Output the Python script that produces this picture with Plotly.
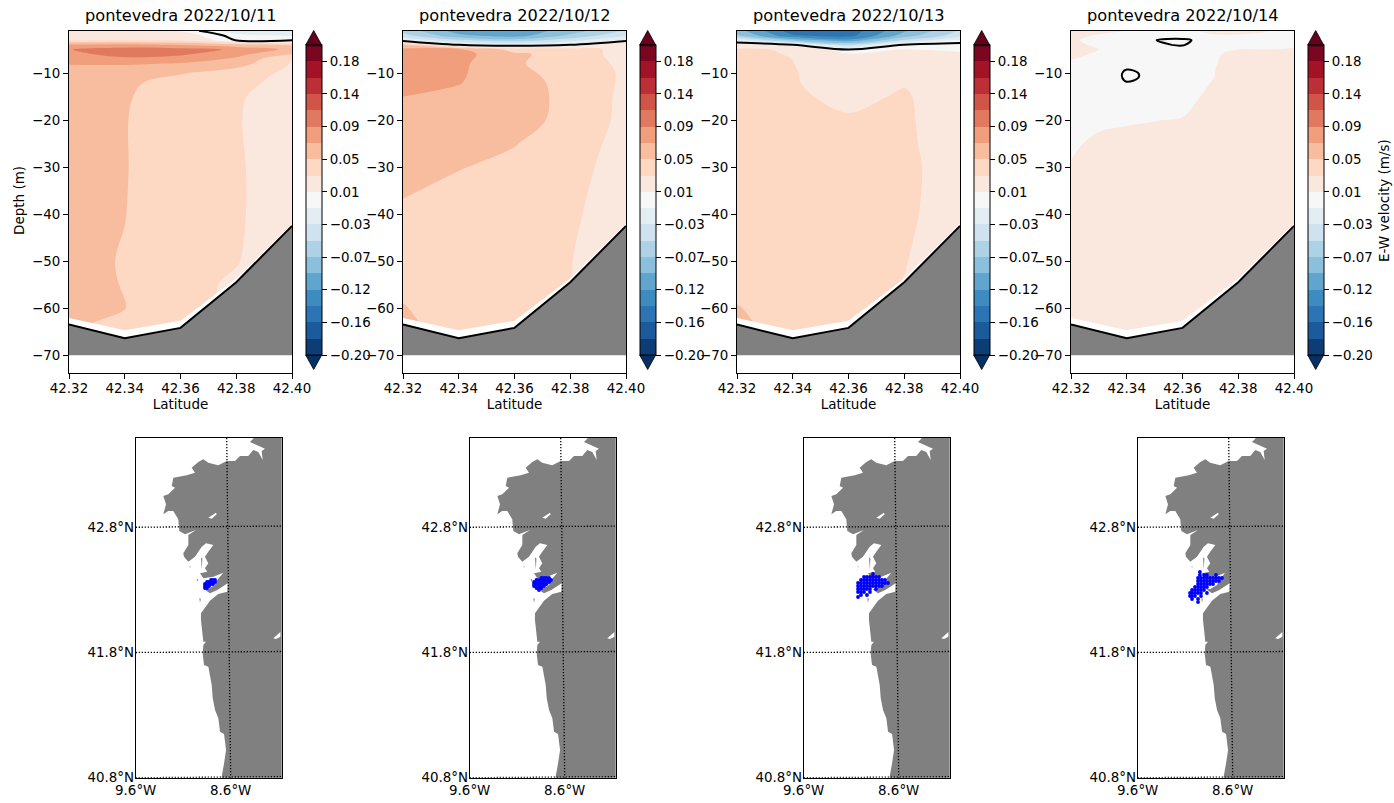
import plotly.graph_objects as go

W, H = 1394, 803
FONT = "DejaVu Sans"

lat_section = [42.32, 42.34, 42.36, 42.38, 42.40]
titles = ["pontevedra 2022/10/11", "pontevedra 2022/10/12", "pontevedra 2022/10/13", "pontevedra 2022/10/14"]
bathy = [-63.5, -66.4, -64.2, -54.5, -42.5]
deepest_layer = [-62.1, -64.7, -62.7, -53.7, -42.0]
gray_floor = [-70, -70, -70, -70, -70]
mask_floor = [-73.8, -73.8, -73.8, -73.8, -73.8]
depth_ticks = [-10, -20, -30, -40, -50, -60, -70]
lat_ticks = [42.32, 42.34, 42.36, 42.38, 42.40]

n_levels = 20
level_low, level_high = -0.2, 0.2
cbar_tick_values = [-0.2, -0.15789, -0.11579, -0.07368, -0.03158, 0.01053, 0.05263, 0.09474, 0.13684, 0.17895]
cbar_tick_text = ["\u22120.20", "\u22120.16", "\u22120.12", "\u22120.07", "\u22120.03", "0.01", "0.05", "0.09", "0.14", "0.18"]
rdbu_r = ["#053061", "#2166ac", "#4393c3", "#92c5de", "#d1e5f0", "#f7f7f7",
          "#fddbc7", "#f4a582", "#d6604d", "#b2182b", "#67001f"]

depth_1 = [-1, -2, -3, -4, -5, -6, -7, -8, -9, -10, -12, -15, -20, -30, -40, -50, -55, -60, -65, -70]
u_1 = [
    [.020, .020, .010, -.020, -.014],
    [.025, .025, .020, -.006, -.012],
    [.030, .030, .028, -.001, .000],
    [.076, .080, .072, .060, .050],
    [.094, .105, .104, .0915, .068],
    [.088, .103, .098, .080, .053],
    [.082, .090, .086, .070, .031],
    [.075, .076, .072, .062, .030],
    [.069, .068, .062, .052, .028],
    [.065, .064, .054, .044, .026],
    [.062, .056, .046, .038, .024],
    [.061, .0545, .042, .034, .021],
    [.062, .0535, .040, .033, .020],
    [.062, .0535, .041, .034, .020],
    [.060, .053, .040, .034, .020],
    [.058, .0515, .039, .0325, .020],
    [.058, .052, .037, .029, .020],
    [.056, .053, .038, .028, .020],
    [.054, .045, .036, .028, .020],
    [.054, .045, .036, .028, .020],
]

depth_2 = [-1, -2, -3, -4, -5, -6, -8, -10, -12, -15, -20, -25, -30, -40, -50, -55, -60, -65, -70]
u_2 = [
    [-.060, -.105, -.110, -.085, -.050],
    [-.045, -.090, -.105, -.070, -.035],
    [-.012, -.050, -.065, -.040, -.006],
    [.060, .000, -.012, .000, .030],
    [.078, .078, .045, .042, .024],
    [.085, .082, .056, .045, .022],
    [.087, .0786, .0543, .046, .026],
    [.083, .077, .0565, .047, .028],
    [.080, .0747, .0605, .0465, .028],
    [.0737, .069, .0635, .046, .027],
    [.068, .066, .0605, .0465, .026],
    [.063, .060, .0535, .042, .024],
    [.058, .0535, .048, .0375, .024],
    [.050, .043, .040, .034, .023],
    [.048, .040, .037, .032, .022],
    [.047, .040, .036, .0316, .022],
    [.054, .040, .034, .028, .020],
    [.060, .040, .034, .028, .020],
    [.060, .040, .034, .028, .020],
]

depth_3 = [-1, -2, -3, -4, -5, -6, -8, -10, -12, -15, -20, -25, -30, -40, -50, -55, -60, -65, -70]
u_3 = [
    [-.085, -.148, -.150, -.098, -.050],
    [-.070, -.135, -.145, -.085, -.040],
    [-.020, -.080, -.110, -.050, -.010],
    [.020, .000, -.050, .001, .007],
    [.034, .030, .000, .0105, .009],
    [.034, .031, .012, .013, .012],
    [.036, .032, .017, .017, .015],
    [.037, .0328, .0215, .022, .016],
    [.038, .033, .023, .030, .017],
    [.040, .035, .026, .034, .017],
    [.042, .038, .034, .0355, .016],
    [.042, .040, .037, .036, .018],
    [.042, .040, .038, .037, .020],
    [.042, .040, .038, .036, .019],
    [.044, .040, .037, .0325, .019],
    [.045, .040, .036, .031, .018],
    [.054, .040, .035, .028, .018],
    [.060, .040, .034, .027, .018],
    [.060, .040, .034, .027, .018],
]

lat_4 = [42.32, 42.33, 42.34, 42.35, 42.36, 42.37, 42.38, 42.39, 42.40]
depth_4 = [-1, -2, -3, -4, -5, -6, -8, -9, -10, -11, -12, -15, -20, -25, -30, -40, -50, -60, -70]
u_4 = [
    [.020, .015, .0106, .008, .009, .012, .013, .0108, .008],
    [.015, .009, .007, .006, .006, .0098, .0098, .0098, .008],
    [.011, .0095, .006, .00015, -.002, .0042, .007, .008, .0085],
    [.012, .0095, .006, .0008, -.0005, .005, .008, .009, .0095],
    [.016, .0105, .007, .004, .003, .006, .0105, .0105, .011],
    [.013, .009, .007, .005, .004, .0085, .0135, .0135, .0135],
    [.009, .008, .006, .005, .004, .0095, .0135, .014, .014],
    [.008, .0055, .00035, .003, .004, .0097, .014, .014, .014],
    [.008, .0052, -.001, .0014, .004, .0098, .014, .014, .014],
    [.008, .0052, -.001, .0014, .004, .0100, .014, .014, .014],
    [.008, .007, .0002, .003, .004, .0105, .014, .014, .014],
    [.007, .007, .005, .005, .007, .0125, .015, .015, .015],
    [.0075, .0085, .0095, .0103, .011, .014, .016, .016, .016],
    [.009, .0125, .0135, .014, .015, .017, .018, .018, .018],
    [.0112, .015, .016, .017, .018, .019, .019, .019, .019],
    [.017, .019, .019, .019, .019, .019, .019, .019, .019],
    [.020, .020, .020, .020, .020, .020, .020, .020, .020],
    [.020, .020, .020, .020, .020, .020, .020, .020, .020],
    [.020, .020, .020, .020, .020, .020, .020, .020, .020],
]

coast_lon = [-8.362, -8.397, -8.239, -8.274, -8.263, -8.309, -8.362, -8.415, -8.502, -8.555, -8.642, -8.731,
             -8.836, -8.888, -8.941, -9.011, -8.976, -9.063, -9.204, -9.221, -9.186, -9.257, -9.309, -9.281,
             -9.309, -9.257, -9.204, -9.152, -9.141, -9.081, -8.965, -9.046, -9.046,
             -9.099, -9.092, -9.046, -8.976, -8.941, -8.905, -8.860, -8.783, -8.836, -8.871, -8.836, -8.871,
             -8.846, -8.923, -8.888, -8.783, -8.678, -8.741, -8.765, -8.836, -8.878, -8.818, -8.741, -8.660,
             -8.632, -8.636, -8.731, -8.818, -8.871, -8.913, -8.913,
             -8.905, -8.888, -8.860, -8.888,
             -8.895, -8.881, -8.835, -8.800, -8.789, -8.765, -8.730, -8.712, -8.670, -8.660, -8.649, -8.670,
             -8.695, -8.702, -8.000, -8.000, -8.362]
coast_lat = [43.508, 43.481, 43.428, 43.409, 43.338, 43.401, 43.417, 43.369, 43.369, 43.330, 43.330, 43.295,
             43.316, 43.343, 43.322, 43.276, 43.236, 43.215, 43.196, 43.130, 43.116, 43.064, 43.050, 42.984,
             42.904, 42.930, 42.930, 42.864, 42.770, 42.744, 42.778, 42.739, 42.659,
             42.592, 42.565, 42.525, 42.565, 42.605, 42.645, 42.672, 42.659, 42.605, 42.565, 42.512, 42.473,
             42.445, 42.433, 42.393, 42.405, 42.437, 42.379, 42.339, 42.307, 42.305, 42.273, 42.299, 42.339,
             42.353, 42.286, 42.267, 42.214, 42.153, 42.113, 42.060,
             42.006, 41.886, 41.886, 41.860,
             41.793, 41.700, 41.687, 41.540, 41.434, 41.340, 41.274, 41.167, 41.149, 41.074, 41.021, 40.914,
             40.808, 40.780, 40.780, 43.560, 43.560]
lakes = [
    ([-8.836, -8.755, -8.747, -8.800], [42.877, 42.917, 42.904, 42.869]),
    ([-8.151, -8.105, -8.077, -8.077, -8.123], [41.913, 41.940, 41.963, 41.926, 41.908]),
]
islands = [
    ([-8.912, -8.898, -8.905], [42.560, 42.550, 42.460]),
    ([-8.958, -8.943, -8.950], [42.387, 42.385, 42.363]),
    ([-8.930, -8.915, -8.923], [42.235, 42.230, 42.195]),
    ([-9.033, -9.023, -9.028], [42.490, 42.488, 42.475]),
]

particles_1 = {
    42.379: [-8.807, -8.786, -8.765],
    42.363: [-8.849, -8.828, -8.807, -8.786, -8.765],
    42.347: [-8.871, -8.849, -8.828, -8.807, -8.786],
    42.331: [-8.871, -8.849, -8.828],
    42.315: [-8.871, -8.849],
}
particles_2 = {
    42.395: [-8.845, -8.818, -8.792, -8.765],
    42.379: [-8.897, -8.871, -8.845, -8.818, -8.792, -8.765, -8.744],
    42.363: [-8.923, -8.897, -8.871, -8.845, -8.818, -8.792, -8.765],
    42.347: [-8.923, -8.897, -8.871, -8.845, -8.818, -8.792],
    42.331: [-8.923, -8.897, -8.871, -8.845, -8.818],
    42.315: [-8.897, -8.871, -8.845],
    42.299: [-8.871],
}
particles_3 = {
    42.427: [-8.871],
    42.403: [-8.965, -8.934, -8.902, -8.871, -8.839, -8.807],
    42.379: [-8.997, -8.965, -8.934, -8.902, -8.871, -8.839, -8.807, -8.776, -8.745],
    42.355: [-9.028, -8.997, -8.965, -8.934, -8.902, -8.871, -8.839, -8.807, -8.776, -8.745, -8.713],
    42.331: [-9.028, -8.997, -8.965, -8.934, -8.902, -8.871, -8.839, -8.807, -8.776],
    42.307: [-9.028, -8.997, -8.965, -8.934, -8.902, -8.839],
    42.283: [-9.028, -8.997, -8.965, -8.902],
    42.259: [-8.997, -8.934],
    42.243: [-9.028],
}
particles_4 = {
    42.443: [-8.945],
    42.419: [-8.945, -8.902, -8.871, -8.776],
    42.395: [-8.965, -8.934, -8.902, -8.871, -8.839, -8.807, -8.776, -8.745, -8.713],
    42.371: [-8.965, -8.934, -8.902, -8.871, -8.839, -8.807, -8.776, -8.745],
    42.347: [-8.965, -8.934, -8.902, -8.871, -8.839, -8.807],
    42.323: [-8.997, -8.965, -8.934, -8.902, -8.871],
    42.299: [-9.028, -8.997, -8.965, -8.934, -8.902],
    42.275: [-9.049, -9.028, -8.997, -8.965, -8.934, -8.871],
    42.251: [-9.049, -9.028, -8.997, -8.934],
    42.227: [-9.028, -8.965],
    42.203: [-8.965],
}
map_lon_ticks = [-9.6, -8.6]
map_lon_text = ["9.6\u00b0W", "8.6\u00b0W"]
map_lat_ticks = [42.8, 41.8, 40.8]
map_lat_text = ["42.8\u00b0N", "41.8\u00b0N", "40.8\u00b0N"]
meridian_lon = [-8.642, -8.600]
meridian_lat = [43.513, 40.800]
parallels = [([-9.6, -8.063], [42.800, 42.810]), ([-9.6, -8.063], [41.800, 41.808]), ([-9.6, -8.063], [40.800, 40.808])]

sections = [(lat_section, depth_1, u_1), (lat_section, depth_2, u_2), (lat_section, depth_3, u_3), (lat_4, depth_4, u_4)]
all_particles = [particles_1, particles_2, particles_3, particles_4]

PANEL_STEP = 334.0
SEC_L, SEC_R, SEC_T, SEC_B = 69.0, 292.0, 31.0, 373.0
MAP_L, MAP_R, MAP_T, MAP_B = 135.7, 281.7, 438.0, 777.7
CB_L, CB_W, CB_T, CB_B, APEX = 305.7, 16.0, 45.0, 355.0, 14.5


def px(x):
    return x / W


def py(y):
    return 1 - y / H


fig = go.Figure()
scale = [[i / 10, c] for i, c in enumerate(rdbu_r)]
size = (level_high - level_low) / (n_levels - 1)
layout = {}
shapes = []
annotations = []
tick_font = dict(family=FONT, size=13.4, color="black")
label_font = dict(family=FONT, size=13.5, color="black")

for i, (lats, depths, values) in enumerate(sections):
    dx = i * PANEL_STEP
    n = i * 2 + 1
    xa, ya = f"x{n}", f"y{n}"
    xk, yk = f"xaxis{n}", f"yaxis{n}"
    flipped_depth = depths[::-1]
    flipped_u = values[::-1]
    fig.add_trace(go.Contour(
        x=lats, y=flipped_depth, z=flipped_u, xaxis=xa, yaxis=ya,
        colorscale=scale, zmin=level_low, zmax=level_high, autocontour=False,
        contours=dict(start=level_low, end=level_high + 1e-9, size=size, coloring="fill", showlines=False),
        line=dict(width=0), hoverinfo="skip",
        colorbar=dict(
            x=px(CB_L + dx), xanchor="left", xpad=0, ypad=0,
            y=py(CB_B), yanchor="bottom", len=(CB_B - CB_T) / H, lenmode="fraction",
            thickness=CB_W, thicknessmode="pixels",
            outlinecolor="black", outlinewidth=1,
            tickmode="array", tickvals=cbar_tick_values, ticktext=cbar_tick_text,
            ticks="outside", ticklen=5, tickwidth=1, tickcolor="black", tickfont=tick_font,
        ),
    ))
    fig.add_trace(go.Contour(
        x=lats, y=flipped_depth, z=flipped_u, xaxis=xa, yaxis=ya, showscale=False,
        autocontour=False, contours=dict(start=0, end=0, size=1, coloring="none", showlines=True),
        line=dict(color="black", width=2), hoverinfo="skip",
    ))
    fig.add_trace(go.Scatter(
        x=lat_section + lat_section[::-1], y=deepest_layer + mask_floor[::-1], xaxis=xa, yaxis=ya,
        mode="lines", fill="toself", fillcolor="white", line=dict(width=0), hoverinfo="skip", showlegend=False,
    ))
    fig.add_trace(go.Scatter(
        x=lat_section + lat_section[::-1], y=bathy + gray_floor[::-1], xaxis=xa, yaxis=ya,
        mode="lines", fill="toself", fillcolor="#808080", line=dict(width=0), hoverinfo="skip", showlegend=False,
    ))
    fig.add_trace(go.Scatter(
        x=lat_section, y=bathy, xaxis=xa, yaxis=ya, mode="lines",
        line=dict(color="black", width=2), hoverinfo="skip", showlegend=False,
    ))
    layout[xk] = dict(
        domain=[px(SEC_L + dx), px(SEC_R + dx)], range=[42.32, 42.40], anchor=ya,
        tickmode="array", tickvals=lat_ticks, ticktext=[f"{v:.2f}" for v in lat_ticks],
        ticks="outside", ticklen=5, tickcolor="black", tickfont=tick_font, ticklabelstandoff=-2,
        showline=True, mirror=True, linecolor="black", linewidth=1, showgrid=False, zeroline=False,
        title=dict(text="Latitude", font=label_font, standoff=3),
    )
    layout[yk] = dict(
        domain=[py(SEC_B), py(SEC_T)], range=[-73.8, -1.05], anchor=xa,
        tickmode="array", tickvals=depth_ticks, ticktext=[f"\u2212{abs(v)}" for v in depth_ticks],
        ticks="outside", ticklen=5, tickcolor="black", tickfont=tick_font,
        showline=True, mirror=True, linecolor="black", linewidth=1, showgrid=False, zeroline=False,
    )
    annotations.append(dict(
        x=px((SEC_L + SEC_R) / 2 + dx), y=py(16), xref="paper", yref="paper", text=titles[i],
        xanchor="center", yanchor="middle", showarrow=False, font=dict(family=FONT, size=16.2, color="black"),
    ))
    cx = CB_L + dx + CB_W / 2
    for color, base, apex in (("#67001f", CB_T, CB_T - APEX), ("#053061", CB_B, CB_B + APEX)):
        shapes.append(dict(
            type="path", xref="paper", yref="paper", fillcolor=color, line=dict(color="black", width=0.8),
            path=f"M {px(CB_L + dx)} {py(base)} L {px(cx)} {py(apex)} L {px(CB_L + dx + CB_W)} {py(base)} Z",
        ))

    # map panel
    m = i * 2 + 2
    xa, ya = f"x{m}", f"y{m}"
    xk, yk = f"xaxis{m}", f"yaxis{m}"
    fig.add_trace(go.Scatter(
        x=coast_lon, y=coast_lat, xaxis=xa, yaxis=ya, mode="lines", fill="toself", fillcolor="#808080",
        line=dict(width=0), hoverinfo="skip", showlegend=False,
    ))
    for lon, lat in lakes:
        fig.add_trace(go.Scatter(x=lon, y=lat, xaxis=xa, yaxis=ya, mode="lines", fill="toself", fillcolor="white",
                                 line=dict(width=0), hoverinfo="skip", showlegend=False))
    for lon, lat in islands:
        fig.add_trace(go.Scatter(x=lon, y=lat, xaxis=xa, yaxis=ya, mode="lines", fill="toself", fillcolor="#808080",
                                 line=dict(width=0), hoverinfo="skip", showlegend=False))
    for lon, lat in parallels + [(meridian_lon, meridian_lat)]:
        fig.add_trace(go.Scatter(x=lon, y=lat, xaxis=xa, yaxis=ya, mode="lines",
                                 line=dict(color="black", width=1.3, dash="1.3px,1.7px"), hoverinfo="skip", showlegend=False))
    plon, plat = [], []
    for row_lat, row_lons in all_particles[i].items():
        plon += row_lons
        plat += [row_lat] * len(row_lons)
    fig.add_trace(go.Scatter(x=plon, y=plat, xaxis=xa, yaxis=ya, mode="markers",
                             marker=dict(color="#0000ff", size=3.8, line=dict(width=0)),
                             hoverinfo="skip", showlegend=False))
    layout[xk] = dict(
        domain=[px(MAP_L + dx), px(MAP_R + dx)], range=[-9.6, -8.063], anchor=ya,
        tickmode="array", tickvals=map_lon_ticks, ticktext=map_lon_text, ticks="", tickfont=tick_font,
        showline=True, mirror=True, linecolor="black", linewidth=1, showgrid=False, zeroline=False,
    )
    layout[yk] = dict(
        domain=[py(MAP_B), py(MAP_T)], range=[40.8, 43.513], anchor=xa,
        tickmode="array", tickvals=map_lat_ticks, ticktext=map_lat_text, ticks="", tickfont=tick_font,
        ticklabelstandoff=-2,
        showline=True, mirror=True, linecolor="black", linewidth=1, showgrid=False, zeroline=False,
    )

annotations.append(dict(x=px(19), y=py(201), xref="paper", yref="paper", text="Depth (m)", textangle=-90,
                        xanchor="center", yanchor="middle", showarrow=False, font=label_font))
annotations.append(dict(x=px(1384), y=py(201), xref="paper", yref="paper", text="E-W velocity (m/s)", textangle=-90,
                        xanchor="center", yanchor="middle", showarrow=False, font=label_font))

fig.update_layout(
    width=W, height=H, margin=dict(l=0, r=0, t=0, b=0, autoexpand=False), paper_bgcolor="white", plot_bgcolor="white",
    showlegend=False, shapes=shapes, annotations=annotations, font=dict(family=FONT, size=13, color="black"),
    **layout,
)
fig.write_html("out.html", config=dict(displayModeBar=False),
               post_script="document.body.style.margin='0';document.body.style.overflow='hidden';")
